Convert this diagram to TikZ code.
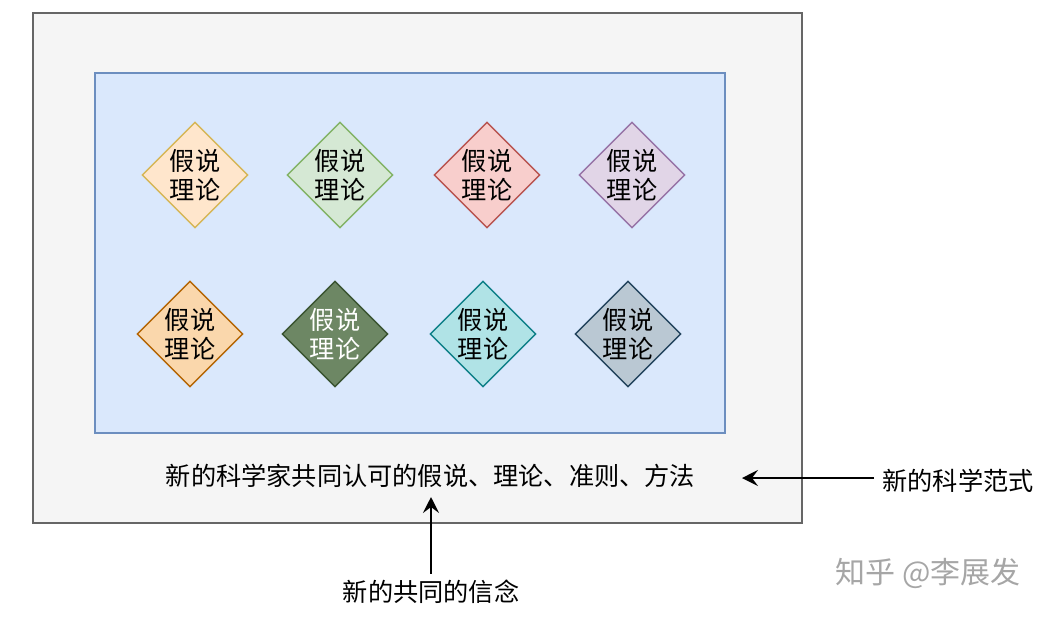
\documentclass[tikz,border=0pt]{standalone}
\usepackage{fontspec}
\setmainfont{Noto Sans CJK SC}
\usepackage{tikz}
\usetikzlibrary{shapes.geometric}
\usetikzlibrary{arrows.meta}

\definecolor{outerfill}{HTML}{F5F5F5}
\definecolor{outerline}{HTML}{666666}
\definecolor{innerfill}{HTML}{DAE8FC}
\definecolor{innerline}{HTML}{6C8EBF}

\begin{document}
\begin{tikzpicture}[
            x = 0.5pt, y = -0.5pt, % pixel grid of the drawing
            > = {Stealth[length = 8pt, width = 8pt, inset = 3pt]}, % arrow head style
            font = \fontsize{12.6}{14.5}\selectfont
        ]

        \tikzset{
            hypo/.style = {
                diamond,
                draw,
                line width = 0.7pt,
                inner sep = 0pt,
                minimum size = 53pt,
                align = center
            },
            label/.style = {inner sep = 0pt}
        }

        \useasboundingbox (0,0) rectangle (1051,617);

	% boxes
        \node[draw = outerline, fill = outerfill, line width = 0.8pt,
              minimum width = 384.5pt, minimum height = 255pt] (old) at (417.5,268) {};
        \node[draw = innerline, fill = innerfill, line width = 0.8pt,
              minimum width = 315pt, minimum height = 180pt] (field) at (410,253) {};

	% hypotheses, upper row
        \node[hypo, fill = {rgb,255:red,255;green,230;blue,204}, draw = {rgb,255:red,214;green,182;blue,86}] (H1) at (195,175) {假说\\理论};
        \node[hypo, fill = {rgb,255:red,213;green,232;blue,212}, draw = {rgb,255:red,130;green,179;blue,102}] (H2) at (340,175) {假说\\理论};
        \node[hypo, fill = {rgb,255:red,248;green,206;blue,204}, draw = {rgb,255:red,184;green,84;blue,80}] (H3) at (487,175) {假说\\理论};
        \node[hypo, fill = {rgb,255:red,225;green,213;blue,231}, draw = {rgb,255:red,150;green,115;blue,166}] (H4) at (632,175) {假说\\理论};

	% hypotheses, lower row
        \node[hypo, fill = {rgb,255:red,250;green,215;blue,172}, draw = {rgb,255:red,180;green,101;blue,4}] (H5) at (190,334) {假说\\理论};
        \node[hypo, fill = {rgb,255:red,109;green,135;blue,100}, draw = {rgb,255:red,58;green,84;blue,49}, text = white] (H6) at (335,334) {假说\\理论};
        \node[hypo, fill = {rgb,255:red,176;green,227;blue,230}, draw = {rgb,255:red,14;green,128;blue,136}] (H7) at (483,334) {假说\\理论};
        \node[hypo, fill = {rgb,255:red,186;green,200;blue,211}, draw = {rgb,255:red,35;green,68;blue,93}] (H8) at (628,334) {假说\\理论};

	% texts
        \node[label] (common) at (430.5,476) {新的科学家共同认可的假说、理论、准则、方法};
        \node[label] (paradigm) at (958,481) {新的科学范式};
        \node[label] (belief) at (431,592) {新的共同的信念};
        \node[label, text = black!35, font = \fontsize{15}{17}\selectfont] (mark) at (928,573) {知乎 @李展发};

	% arrows
        \coordinate (paratip) at (742,478);
        \coordinate (belieftip) at (431,497);

        \draw[->, line width = 1pt] (paradigm.west) ++(-8,-3) -- (paratip);
        \draw[->, line width = 1pt] (belief.north) ++(0,-6) -- (belieftip);

\end{tikzpicture}
\end{document}
